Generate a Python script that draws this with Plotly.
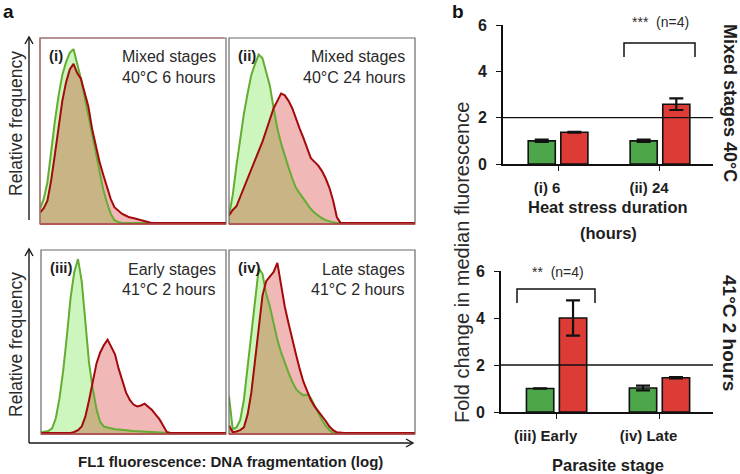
import numpy as np
import plotly.graph_objects as go

W, H = 740, 474
FONT = "Liberation Sans, Arial, Helvetica, sans-serif"

# ---------------- panel a: flow cytometry histograms (relative frequency, %) ----------------
channel = list(range(0, 72, 2)) + [100]

i_green = [7.5, 13, 22, 39, 55, 69, 80, 87, 92, 94, 86, 78, 68, 58, 46, 36, 28, 18, 11, 5, 1.5, 0.5] + [0] * 15
i_red = [5.5, 8, 12, 23, 37, 53, 66, 76, 83, 86, 81, 78, 71, 63, 51, 42, 33, 26, 19, 13, 8.5, 6.5,
         5, 4, 3, 2.6, 2, 1.8, 1, 0.5] + [0] * 7
ii_green = [4, 15, 31, 46, 59, 70, 80, 86, 91, 89, 82, 74, 62, 51, 43, 36, 30, 24, 19, 16, 13, 10,
            7.5, 5.5, 4, 2.5, 1.5, 0.8, 0.3] + [0] * 8
ii_red = [4, 7, 9, 14, 18, 23, 29, 34, 39, 44, 50, 56, 62, 66, 70, 69, 66, 62, 56, 51, 46, 40, 35,
          33, 31, 28, 24, 19, 12, 3] + [0] * 7
iii_green = [0.3, 0.5, 1, 2.5, 8, 19, 34, 53, 74, 88, 95, 83, 60, 38, 24, 13, 6, 3.5, 3, 2.4, 2,
             1.8, 1.5, 1.3, 1.2, 1, 0.9, 0.8, 0.6, 0.5, 0.4, 0.3, 0.2] + [0] * 4
iii_red = [0] * 9 + [0.5, 1.5, 3.5, 9, 18, 29, 38, 44, 48, 51, 47, 43, 35, 28, 22, 18, 15.5, 14.5,
                     15, 16, 14.5, 12.5, 10, 7.5, 4, 0.5] + [0] * 2
iv_green = [20, 2, 3, 7, 18, 36, 56, 74, 90, 87, 76, 69, 60, 51, 44, 38, 33, 28, 24, 22, 20.5, 21,
            19, 15, 11, 7, 4, 1.5] + [0] * 9
iv_red = [4, 0.4, 0.8, 1.5, 3, 10, 22, 40, 60, 75, 83, 85.5, 88, 93, 80, 69, 60, 51, 43, 35, 28,
          23, 18, 14.5, 12, 9, 6.5, 3.5, 1.5, 0.3] + [0] * 7

# ---------------- panel b: fold change in median fluorescence ----------------
top_categories = ["(i) 6", "(ii) 24"]
top_control = [1.0, 1.0]
top_control_err = [0.05, 0.05]
top_heat = [1.37, 2.58]
top_heat_err = [0.02, 0.25]

bot_categories = ["(iii) Early", "(iv) Late"]
bot_control = [1.0, 1.02]
bot_control_err = [0.01, 0.1]
bot_heat = [4.0, 1.46]
bot_heat_err = [0.75, 0.03]

yticks = [0, 2, 4, 6]

# ---------------- styling ----------------
GREEN_LINE = "#64ad32"
RED_LINE = "#a3090d"
GREEN_FILL = "#cdf6bf"
RED_FILL = "#f1b8b8"
OVER_FILL = "#c9b486"
BAR_GREEN = "#4ea64b"
BAR_RED = "#dc3b36"
TXT = "#2a2a2a"


def px(x):
    return x / W


def py(y):
    return 1 - y / H


fig = go.Figure()
layout = {}
shapes = []
annotations = []

panels = [
    dict(g=i_green, r=i_red, box=(40, 38, 226, 224), tag="(i)", l1="Mixed stages", l2="40°C 6 hours"),
    dict(g=ii_green, r=ii_red, box=(229, 38, 415, 224), tag="(ii)", l1="Mixed stages", l2="40°C 24 hours"),
    dict(g=iii_green, r=iii_red, box=(41, 250, 226, 434), tag="(iii)", l1="Early stages", l2="41°C 2 hours"),
    dict(g=iv_green, r=iv_red, box=(229, 250, 415, 434), tag="(iv)", l1="Late stages", l2="41°C 2 hours"),
]

for n, p in enumerate(panels, start=1):
    xa, ya = f"x{n}", f"y{n}"
    g = np.array(p["g"], dtype=float)
    r = np.array(p["r"], dtype=float)
    ov = np.minimum(g, r)
    common = dict(x=channel, xaxis=xa, yaxis=ya, showlegend=False, hoverinfo="skip")
    fig.add_trace(go.Scatter(y=g, mode="none", fill="tozeroy", fillcolor=GREEN_FILL, **common))
    fig.add_trace(go.Scatter(y=r, mode="none", fill="tozeroy", fillcolor=RED_FILL, **common))
    fig.add_trace(go.Scatter(y=ov, mode="none", fill="tozeroy", fillcolor=OVER_FILL, **common))
    fig.add_trace(go.Scatter(y=g, mode="lines", line=dict(color=GREEN_LINE, width=2), **common))
    fig.add_trace(go.Scatter(y=r, mode="lines", line=dict(color=RED_LINE, width=2), **common))
    x0, y0, x1, y1 = p["box"]
    layout[f"xaxis{n}"] = dict(domain=[px(x0), px(x1)], range=[0, 100], visible=False,
                               anchor=ya, fixedrange=True)
    layout[f"yaxis{n}"] = dict(domain=[py(y1), py(y0)], range=[-0.6, 100], visible=False,
                               anchor=xa, fixedrange=True)
    # panel frame
    shapes.append(dict(type="rect", xref="paper", yref="paper", x0=px(x0), x1=px(x1),
                       y0=py(y1), y1=py(y0), line=dict(color="#6a6a6a", width=1.2)))
    shapes.append(dict(type="line", xref="paper", yref="paper", x0=px(x0), x1=px(x1),
                       y0=py(y1), y1=py(y1), line=dict(color="#b23a3a", width=1.4)))
    if n == 1:
        shapes.append(dict(type="path", xref="paper", yref="paper",
                           path=f"M {px(x0)},{py(y1)} L {px(x0)},{py(y0)} L {px(x1 - 2)},{py(y0)}",
                           line=dict(color="#b77070", width=1.2)))
    annotations.append(dict(x=px(x0 + 7), y=py(y0 + 17), xref="paper", yref="paper", text=f"<b>{p['tag']}</b>",
                            showarrow=False, xanchor="left", yanchor="middle",
                            font=dict(size=15, color="#1e1e1e", family=FONT)))
    annotations.append(dict(x=px(x1 - 8), y=py(y0 + 19), xref="paper", yref="paper", text=p["l1"],
                            showarrow=False, xanchor="right", yanchor="middle",
                            font=dict(size=16, color=TXT, family=FONT)))
    annotations.append(dict(x=px(x1 - 8), y=py(y0 + 39), xref="paper", yref="paper", text=p["l2"],
                            showarrow=False, xanchor="right", yanchor="middle",
                            font=dict(size=16, color=TXT, family=FONT)))

# axis arrows of panel a
ARW = dict(color="#1a1a1a", width=1.4)
for seg in [((29, 220), (29, 37)), ((29, 443), (29, 249)), ((29, 443), (413, 443))]:
    (ax0, ay0), (ax1, ay1) = seg
    shapes.append(dict(type="line", xref="paper", yref="paper", x0=px(ax0), y0=py(ay0),
                       x1=px(ax1), y1=py(ay1), line=ARW))
for pth in [[(25, 44), (29, 37), (33, 44)], [(25, 256), (29, 249), (33, 256)], [(406, 439), (413, 443), (406, 447)]]:
    d = "M " + " L ".join(f"{px(a)},{py(b)}" for a, b in pth)
    shapes.append(dict(type="path", xref="paper", yref="paper", path=d, line=ARW))

# ---------------- bar charts ----------------
def bars(cats, ctrl, ctrl_err, heat, heat_err, xa, ya):
    fig.add_trace(go.Bar(x=cats, y=ctrl, xaxis=xa, yaxis=ya, marker=dict(color=BAR_GREEN, line=dict(color="#111", width=1.6)),
                         error_y=dict(type="data", array=ctrl_err, color="#111", thickness=2.2, width=7),
                         showlegend=False, offsetgroup="c"))
    fig.add_trace(go.Bar(x=cats, y=heat, xaxis=xa, yaxis=ya, marker=dict(color=BAR_RED, line=dict(color="#111", width=1.6)),
                         error_y=dict(type="data", array=heat_err, color="#111", thickness=2.2, width=7),
                         showlegend=False, offsetgroup="h"))


bars(top_categories, top_control, top_control_err, top_heat, top_heat_err, "x5", "y5")
bars(bot_categories, bot_control, bot_control_err, bot_heat, bot_heat_err, "x6", "y6")

bar_x = dict(range=[-0.54, 1.52], showline=True, linecolor="#111", linewidth=1.6, ticks="outside",
             ticklen=5, tickwidth=1.4, tickcolor="#111", showgrid=False, zeroline=False, fixedrange=True,
             ticklabelstandoff=4, ticklabelshift=-11,
             tickfont=dict(size=15, color="#1e1e1e", family=FONT, weight=700))
bar_y = dict(range=[0, 6], tickvals=yticks, showline=True, linecolor="#111", linewidth=1.6, ticks="outside",
             ticklen=5, tickwidth=1.4, tickcolor="#111", showgrid=False, zeroline=False, fixedrange=True,
             ticklabelstandoff=6,
             tickfont=dict(size=16, color="#1e1e1e", family=FONT, weight=700))
layout["xaxis5"] = dict(domain=[px(503), px(713)], anchor="y5", **bar_x)
layout["yaxis5"] = dict(domain=[py(164), py(25)], anchor="x5", **bar_y)
layout["xaxis6"] = dict(domain=[px(501), px(713)], anchor="y6", **bar_x)
layout["yaxis6"] = dict(domain=[py(412), py(271)], anchor="x6", **bar_y)

for xa, ya in [("x5", "y5"), ("x6", "y6")]:
    shapes.append(dict(type="line", xref=f"{xa} domain", yref=ya, x0=0, x1=1, y0=2, y1=2,
                       line=dict(color="#111", width=1.3)))

# significance brackets
for pth in [[(624, 57), (624, 43), (695, 43), (695, 57)], [(517, 303), (517, 289), (595, 289), (595, 303)]]:
    d = "M " + " L ".join(f"{px(a)},{py(b)}" for a, b in pth)
    shapes.append(dict(type="path", xref="paper", yref="paper", path=d, line=dict(color="#111", width=1.5)))

def ann(x, y, text, size, bold=False, angle=0, xanchor="center", color=TXT):
    annotations.append(dict(x=px(x), y=py(y), xref="paper", yref="paper", text=f"<b>{text}</b>" if bold else text,
                            showarrow=False, xanchor=xanchor, yanchor="middle", textangle=angle,
                            font=dict(size=size, color=color, family=FONT)))

ann(660, 22, "***  (n=4)", 14)
ann(558, 272, "**  (n=4)", 14)
ann(8, 11, "a", 19, bold=True, color="#111")
ann(458, 11, "b", 19, bold=True, color="#111")
ann(16, 124, "Relative frequency", 17.5, angle=-90)
ann(16, 345, "Relative frequency", 17.5, angle=-90)
ann(231, 461, "FL1 fluorescence: DNA fragmentation (log)", 15, bold=True, color="#1e1e1e")
ann(462, 262, "Fold change in median fluorescence", 20, angle=-90)
ann(608, 207, "Heat stress duration", 16.5, bold=True, color="#1e1e1e")
ann(608, 233, "(hours)", 16.5, bold=True, color="#1e1e1e")
ann(608, 465, "Parasite stage", 16.5, bold=True, color="#1e1e1e")
ann(730, 103, "Mixed stages 40°C", 18, bold=True, angle=90, color="#1e1e1e")
ann(730, 333, "41°C 2 hours", 19, bold=True, angle=90, color="#1e1e1e")

layout.update(dict(width=W, height=H, margin=dict(l=0, r=0, t=0, b=0, autoexpand=False), paper_bgcolor="white",
                   plot_bgcolor="rgba(0,0,0,0)", barmode="group", bargap=0.36, bargroupgap=0.17,
                   shapes=shapes, annotations=annotations, font=dict(family=FONT), showlegend=False))
fig.update_layout(**layout)
fig.write_html("out.html", config={"displayModeBar": False},
               post_script="document.body.style.margin='0';document.body.style.overflow='hidden';")
